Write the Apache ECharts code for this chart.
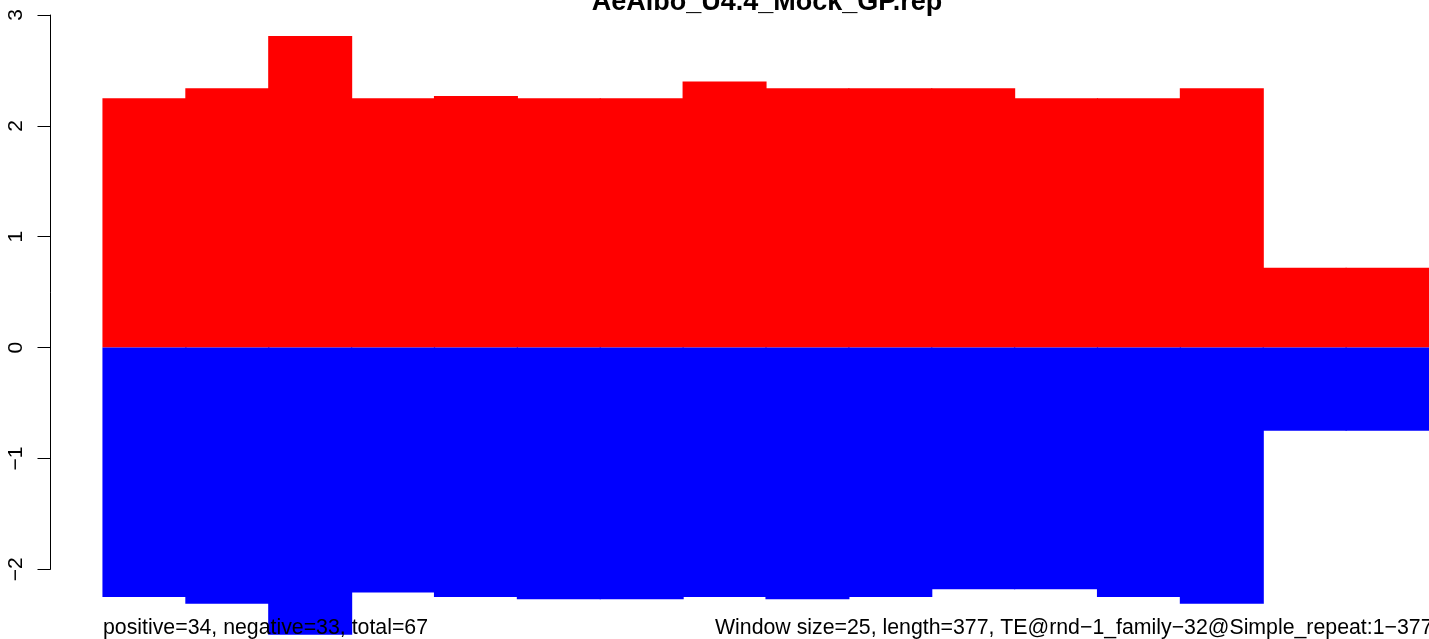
<!DOCTYPE html>
<html><head><meta charset="utf-8">
<script src="https://cdn.jsdelivr.net/npm/echarts@6/dist/echarts.min.js"></script>
<style>html,body{margin:0;padding:0;background:#fff}#c{width:1429px;height:639px}</style>
</head><body><div id="c"></div>
<script>
const windowStarts = ['1','26','51','76','101','126','151','176','201','226','251','276','301','326','351','376'];
const positiveValues = [2.25, 2.34, 2.81, 2.25, 2.27, 2.25, 2.25, 2.40, 2.34, 2.34, 2.34, 2.25, 2.25, 2.34, 0.72, 0.72];
const negativeValues = [-2.25, -2.31, -2.59, -2.21, -2.25, -2.27, -2.27, -2.25, -2.27, -2.25, -2.18, -2.18, -2.25, -2.31, -0.75, -0.75];
const yMin = -2, yMax = 3, yStep = 1;
const titleText = 'AeAlbo_U4.4_Mock_GP.rep';
const leftNote = 'positive=34, negative=33, total=67';
const rightNote = 'Window size=25, length=377, TE@rnd\u22121_family\u221232@Simple_repeat:1\u2212377';

const FONT = '"Liberation Sans", Arial, Helvetica, sans-serif';
const chart = echarts.init(document.getElementById('c'), null, {renderer: 'canvas'});
chart.setOption({
  animation: false,
  backgroundColor: '#ffffff',
  grid: {left: 103, top: 15, width: 1330, height: 554.3, containLabel: false},
  xAxis: {type: 'category', data: windowStarts, show: false, boundaryGap: true},
  yAxis: {
    type: 'value', min: yMin, max: yMax, interval: yStep, offset: 52.5,
    axisLine: {show: true, lineStyle: {color: '#000', width: 1}},
    axisTick: {show: true, length: 13, lineStyle: {color: '#000', width: 1}},
    splitLine: {show: false},
    axisLabel: {
      rotate: 90, margin: 24, color: '#000', fontFamily: FONT, fontSize: 21,
      formatter: v => String(v).replace('-', '\u2212')
    }
  },
  series: [
    {type: 'bar', data: positiveValues, barWidth: 84, barGap: '-100%', clip: false,
     itemStyle: {color: '#ff0000'}, silent: true},
    {type: 'bar', data: negativeValues, barWidth: 84, barGap: '-100%', clip: false,
     itemStyle: {color: '#0000ff'}, silent: true}
  ],
  graphic: [
    {type: 'text', x: 767, y: 16, silent: true, z: 100,
     style: {text: titleText, fill: '#000', font: 'bold 27px ' + FONT, textAlign: 'center', textVerticalAlign: 'bottom'}},
    {type: 'text', x: 103, y: 639, silent: true, z: 100,
     style: {text: leftNote, fill: '#000', font: '21.3px ' + FONT, textAlign: 'left', textVerticalAlign: 'bottom'}},
    {type: 'text', x: 715, y: 639, silent: true, z: 100,
     style: {text: rightNote, fill: '#000', font: '21.3px ' + FONT, textAlign: 'left', textVerticalAlign: 'bottom'}}
  ]
});
</script>
</body></html>
